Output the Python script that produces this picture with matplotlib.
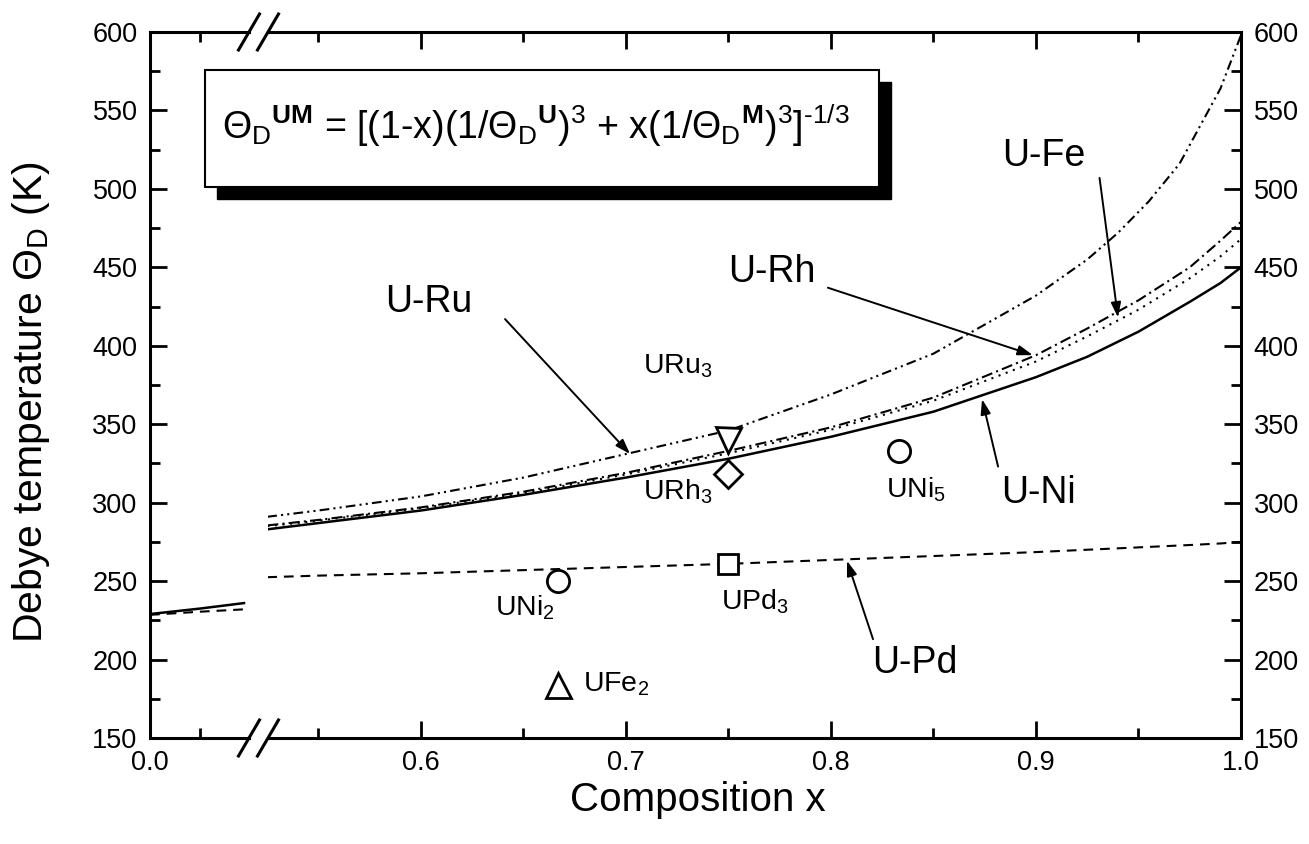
import matplotlib
matplotlib.use("Agg")
import matplotlib.pyplot as plt
from matplotlib.lines import Line2D
from matplotlib.patches import Rectangle
from matplotlib.ticker import FixedLocator, FormatStrFormatter

plt.rcParams['font.family'] = ['Liberation Sans', 'DejaVu Sans']
plt.rcParams['mathtext.fontset'] = 'custom'
plt.rcParams['mathtext.rm'] = 'Liberation Sans'
plt.rcParams['mathtext.it'] = 'Liberation Sans'
plt.rcParams['mathtext.bf'] = 'Liberation Sans:bold'
plt.rcParams['lines.scale_dashes'] = False

# composition x on the high-x branch (right of the axis break)
x_hi = [0.525, 0.55, 0.6, 0.65, 0.7, 0.75, 0.8, 0.85, 0.9, 0.925, 0.95, 0.975, 0.99, 1.0]
u_ni = [283, 287, 295, 305, 316, 328, 342, 358, 380, 393, 409, 428, 440, 450]
u_rh = [285.5, 289, 297, 307, 319, 333, 348, 367, 394, 411, 429, 450, 467, 479]
u_fe = [285, 288.5, 296.5, 306, 318, 331.5, 346.5, 365, 390, 406, 423, 443, 457, 468]
u_pd = [252.5, 253.5, 255, 257, 259, 261, 263.5, 266, 268.5, 270, 271.5, 273, 274, 275]

# U-Ru rises steeply near x = 1, read more densely there
x_ru = [0.525, 0.55, 0.6, 0.65, 0.7, 0.75, 0.8, 0.85, 0.9, 0.925, 0.94, 0.955,
        0.97, 0.98, 0.99, 1.0]
u_ru = [291, 295, 304, 316, 331, 346, 369, 395, 432, 455, 472, 492,
        516, 540, 564, 598]

# low-x branch (left of the break)
x_lo = [0.0, 0.05, 0.094]
u_ni_lo = [229, 232.5, 236]
u_pd_lo = [228.5, 230.5, 232]

# measured compounds
cmp_names = ["UNi$_2$", "UFe$_2$", "UPd$_3$", "URu$_3$", "URh$_3$", "UNi$_5$"]
cmp_x = [0.667, 0.667, 0.75, 0.75, 0.75, 0.833]
cmp_T = [250, 184, 261, 340, 318, 333]
cmp_mk = ["o", "^", "s", "v", "D", "o"]

W, H = 1309, 844
fig = plt.figure(figsize=(W / 100, H / 100), dpi=100)


def fx(px):
    return px / W


def fy(py):
    return 1 - py / H


top, bot = 32, 738
ax1 = fig.add_axes([fx(150), fy(bot), (249 - 150) / W, (bot - top) / H])
ax2 = fig.add_axes([fx(268), fy(bot), (1241 - 268) / W, (bot - top) / H])

ax1.plot(x_lo, u_ni_lo, color="k", lw=1.8)
ax1.plot(x_lo, u_pd_lo, color="k", lw=1.5, ls=(0, (7, 5)))

ax2.plot(x_hi, u_ni, color="k", lw=1.8)
ax2.plot(x_hi, u_pd, color="k", lw=1.5, ls=(0, (7, 5)))
ax2.plot(x_hi, u_rh, color="k", lw=1.5, ls=(0, (8, 3, 1.5, 3)))
ax2.plot(x_hi, u_fe, color="k", lw=1.5, ls=(0, (1.5, 4)))
ax2.plot(x_ru, u_ru, color="k", lw=1.5, ls=(0, (7, 3, 1.5, 3, 1.5, 3)))

sizes = {"o": 16, "^": 18, "s": 15, "v": 18, "D": 14}
for xv, tv, mk in zip(cmp_x, cmp_T, cmp_mk):
    ax2.plot(xv, tv, marker=mk, ms=sizes[mk], mfc="white", mec="k", mew=2,
             ls="none", zorder=5)

fs_c = 20.5
ax2.text(0.6507, 233, cmp_names[0], fontsize=fs_c, ha="center", va="center")
ax2.text(0.679, 184, cmp_names[1], fontsize=fs_c, ha="left", va="center")
ax2.text(0.763, 237, cmp_names[2], fontsize=fs_c, ha="center", va="center")
ax2.text(0.742, 387, cmp_names[3], fontsize=fs_c, ha="right", va="center")
ax2.text(0.742, 307, cmp_names[4], fontsize=fs_c, ha="right", va="center")
ax2.text(0.827, 308, cmp_names[5], fontsize=fs_c, ha="left", va="center")

arrow = dict(arrowstyle="-|>,head_length=0.9,head_width=0.3", color="k",
             lw=1.4, shrinkA=0, shrinkB=0)
fs_l = 27
labels = [("U-Ru", (0.604, 428), (0.641, 417), (0.702, 331)),
          ("U-Rh", (0.771, 447), (0.7985, 437), (0.8985, 394)),
          ("U-Fe", (0.904, 521), (0.931, 507), (0.940, 418)),
          ("U-Ni", (0.901, 306), (0.8815, 323), (0.8737, 366)),
          ("U-Pd", (0.841, 198), (0.8205, 213), (0.8078, 263))]
for name, tpos, a0, a1 in labels:
    ax2.text(tpos[0], tpos[1], name, fontsize=fs_l, ha="center", va="center")
    ax2.annotate("", xy=a1, xytext=a0, arrowprops=arrow)

for ax in (ax1, ax2):
    ax.set_ylim(150, 600)
    ax.yaxis.set_major_locator(FixedLocator(range(150, 601, 50)))
    ax.yaxis.set_minor_locator(FixedLocator(range(175, 600, 50)))
    ax.xaxis.set_major_formatter(FormatStrFormatter("%.1f"))
    ax.tick_params(which="both", direction="in", top=True, width=2,
                   labelsize=19.5, pad=9)
    ax.tick_params(which="major", length=12)
    ax.tick_params(which="minor", length=7)
    for s in ax.spines.values():
        s.set_linewidth(2.2)

ax1.set_xlim(0, 0.099)
ax1.xaxis.set_major_locator(FixedLocator([0.0]))
ax1.xaxis.set_minor_locator(FixedLocator([0.05]))
ax1.spines["right"].set_visible(False)
ax1.tick_params(axis="y", which="both", left=True, right=False)

ax2.set_xlim(0.52537, 1.0)
ax2.xaxis.set_major_locator(FixedLocator([0.6, 0.7, 0.8, 0.9, 1.0]))
ax2.xaxis.set_minor_locator(FixedLocator([0.55, 0.65, 0.75, 0.85, 0.95]))
ax2.spines["left"].set_visible(False)
ax2.tick_params(axis="y", which="both", left=False, right=True,
                labelleft=False, labelright=True)

# axis break marks
for yc in (top, bot):
    for xc in (249, 268):
        fig.add_artist(Line2D([fx(xc - 10.5), fx(xc + 10.5)],
                              [fy(yc + 18), fy(yc - 18)], color="k", lw=2.2))

# formula box with drop shadow
fig.add_artist(Rectangle((fx(217), fy(199)), (891 - 217) / W, (199 - 82) / H,
                         facecolor="k", edgecolor="k"))
fig.add_artist(Rectangle((fx(205), fy(187)), (879 - 205) / W, (187 - 70) / H,
                         facecolor="white", edgecolor="k", lw=1.5))
formula = (r"${\Theta_\mathrm{D}}^{\mathbf{UM}}$ = [(1-x)(1/${\Theta_\mathrm{D}}^{\mathbf{U}})^3$"
           r" + x(1/${\Theta_\mathrm{D}}^{\mathbf{M}})^3]^{" + "\u2010" + r"1/3}$")
fig.text(fx(536), fy(126), formula, fontsize=27, ha="center", va="center")

fig.text(fx(698), fy(800), "Composition x", fontsize=29, ha="center", va="center")
fig.text(fx(31), fy(402), r"Debye temperature $\Theta_\mathrm{D}$ (K)", fontsize=29.5,
         rotation=90, ha="center", va="center")

fig.savefig("out.png", dpi=100)
